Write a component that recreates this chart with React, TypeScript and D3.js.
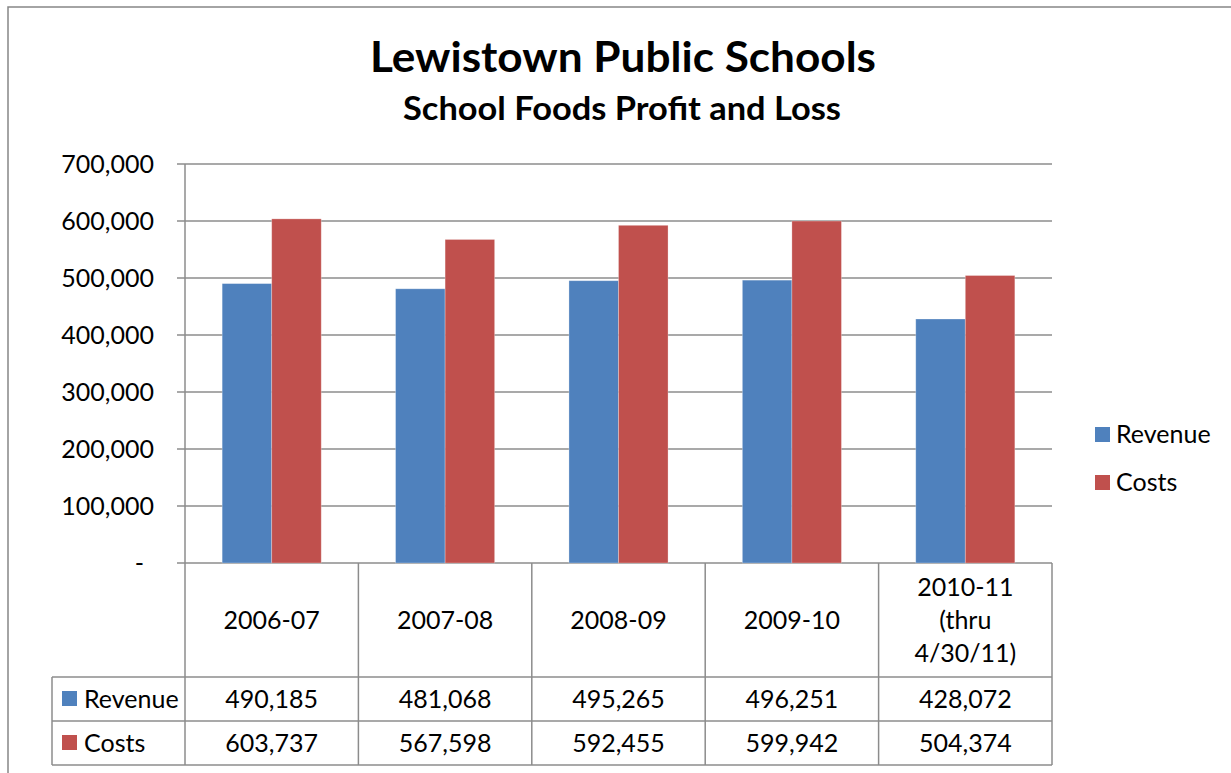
import { useEffect, useRef } from "react";
import * as d3 from "d3";

const categories = ["2006-07", "2007-08", "2008-09", "2009-10", "2010-11 (thru 4/30/11)"];
const categoryLines = [["2006-07"], ["2007-08"], ["2008-09"], ["2009-10"], ["2010-11", "(thru", "4/30/11)"]];
const seriesNames = ["Revenue", "Costs"];
const revenue = [490185, 481068, 495265, 496251, 428072];
const costs = [603737, 567598, 592455, 599942, 504374];
const yTicks = [0, 100000, 200000, 300000, 400000, 500000, 600000, 700000];

const colors: Record<string, string> = { Revenue: "#4F81BD", Costs: "#C0504D" };

const App: React.FC = () => {
  const svgRef = useRef<SVGSVGElement | null>(null);

  useEffect(() => {
    const width = 1231;
    const height = 773;
    const font = "Lato, 'Open Sans', sans-serif";
    const fontSize = 25;
    const gridColor = "#8c8c8c";
    const left = 185, right = 1052, top = 164, bottom = 563;
    const rowLines = [677, 721, 765];
    const labelLeft = 52;

    const svg = d3.select(svgRef.current);
    svg.selectAll("*").remove();
    svg.attr("width", width).attr("height", height).style("font-family", font);

    svg.append("rect")
      .attr("width", width).attr("height", height).attr("fill", "#fff");

    // chart border
    svg.append("rect")
      .attr("x", 8).attr("y", 7)
      .attr("width", 1300).attr("height", 900)
      .attr("fill", "none")
      .attr("stroke", "#868686")
      .attr("stroke-width", 1.5);

    // titles
    svg.append("text")
      .attr("x", 623).attr("y", 72)
      .attr("text-anchor", "middle")
      .attr("font-weight", "bold")
      .attr("font-size", 42)
      .attr("textLength", 506)
      .attr("lengthAdjust", "spacingAndGlyphs")
      .text("Lewistown Public Schools");

    svg.append("text")
      .attr("x", 622).attr("y", 120)
      .attr("text-anchor", "middle")
      .attr("font-weight", "bold")
      .attr("font-size", 32)
      .attr("textLength", 438)
      .attr("lengthAdjust", "spacingAndGlyphs")
      .text("School Foods Profit and Loss");

    const y = d3.scaleLinear().domain([0, 700000]).range([bottom, top]);
    const x = d3.scaleBand<string>().domain(categories).range([left, right]).paddingInner(0).paddingOuter(0);
    const xs = d3.scaleBand<string>().domain(seriesNames).range([0, x.bandwidth()]).paddingInner(0).paddingOuter(0.75);

    // gridlines + ticks
    svg.append("g")
      .selectAll("line")
      .data(yTicks)
      .join("line")
      .attr("x1", left - 8).attr("x2", right)
      .attr("y1", d => y(d)).attr("y2", d => y(d))
      .attr("stroke", gridColor)
      .attr("stroke-width", 1.5);

    svg.append("g")
      .selectAll("text")
      .data(yTicks)
      .join("text")
      .attr("x", d => (d === 0 ? 144 : 154))
      .attr("y", d => y(d))
      .attr("dy", "0.35em")
      .attr("text-anchor", "end")
      .attr("font-size", fontSize)
      .attr("fill", "#000")
      .text(d => (d === 0 ? "-" : d3.format(",")(d)));

    // bars
    const seriesData = [revenue, costs];
    const barG = svg.append("g");
    seriesNames.forEach((s, si) => {
      barG.append("g")
        .selectAll("rect")
        .data(seriesData[si])
        .join("rect")
        .attr("x", (_, i) => (x(categories[i]) as number) + (xs(s) as number))
        .attr("width", xs.bandwidth())
        .attr("y", d => y(d))
        .attr("height", d => y(0) - y(d))
        .attr("fill", colors[s])
        .attr("stroke", "#fff")
        .attr("stroke-opacity", 0.35)
        .attr("stroke-width", 0.8);
    });

    // value axis line
    svg.append("line")
      .attr("x1", left).attr("x2", left)
      .attr("y1", top).attr("y2", bottom)
      .attr("stroke", gridColor).attr("stroke-width", 1.5);

    // data table
    const table = svg.append("g").attr("stroke", gridColor).attr("stroke-width", 1.5);
    const bounds = [left, ...categories.map(c => (x(c) as number) + x.bandwidth())];
    table.selectAll("line.v")
      .data(bounds)
      .join("line")
      .attr("x1", d => d).attr("x2", d => d)
      .attr("y1", bottom).attr("y2", rowLines[2]);
    table.selectAll("line.h")
      .data(rowLines)
      .join("line")
      .attr("x1", labelLeft).attr("x2", right)
      .attr("y1", d => d).attr("y2", d => d);
    table.append("line")
      .attr("x1", labelLeft).attr("x2", labelLeft)
      .attr("y1", rowLines[0]).attr("y2", rowLines[2]);

    // category header
    const header = svg.append("g");
    categoryLines.forEach((lines, i) => {
      const cx = (x(categories[i]) as number) + x.bandwidth() / 2;
      const cy = (bottom + rowLines[0]) / 2;
      const lh = 33;
      lines.forEach((ln, j) => {
        header.append("text")
          .attr("x", cx)
          .attr("y", cy + (j - (lines.length - 1) / 2) * lh)
          .attr("dy", "0.35em")
          .attr("text-anchor", "middle")
          .attr("font-size", fontSize)
          .text(ln);
      });
    });

    // value rows
    seriesNames.forEach((s, si) => {
      const cy = (rowLines[si] + rowLines[si + 1]) / 2;
      const row = svg.append("g");
      row.append("rect")
        .attr("x", 62).attr("y", cy - 8)
        .attr("width", 15).attr("height", 15)
        .attr("fill", colors[s]);
      row.append("text")
        .attr("x", 84).attr("y", cy)
        .attr("dy", "0.35em")
        .attr("font-size", fontSize)
        .text(s);
      row.selectAll("text.v")
        .data(seriesData[si])
        .join("text")
        .attr("x", (_, i) => (x(categories[i]) as number) + x.bandwidth() / 2)
        .attr("y", cy)
        .attr("dy", "0.35em")
        .attr("text-anchor", "middle")
        .attr("font-size", fontSize)
        .text(d => d3.format(",")(d));
    });

    // legend
    const legend = svg.append("g");
    seriesNames.forEach((s, i) => {
      const cy = 434 + i * 48;
      legend.append("rect")
        .attr("x", 1095).attr("y", cy - 7)
        .attr("width", 15).attr("height", 15)
        .attr("fill", colors[s]);
      legend.append("text")
        .attr("x", 1116).attr("y", cy)
        .attr("dy", "0.35em")
        .attr("font-size", fontSize)
        .text(s);
    });
  }, []);

  return (
    <svg ref={svgRef} style={{ position: "absolute", left: 0, top: 0, display: "block" }}></svg>
  );
};

export default App;
